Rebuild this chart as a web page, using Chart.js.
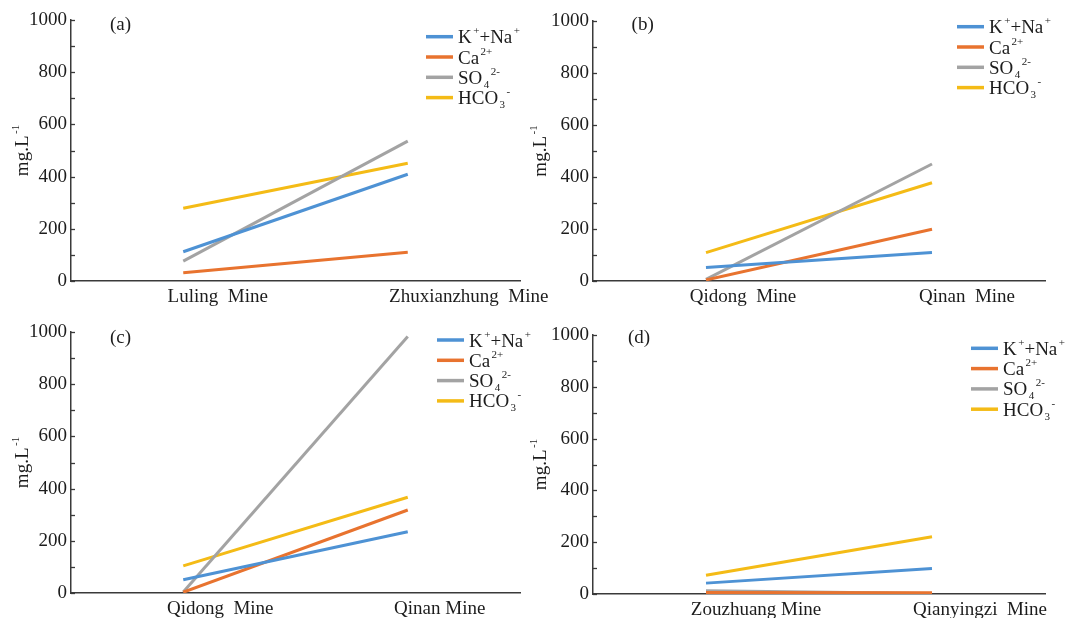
<!DOCTYPE html>
<html><head><meta charset="utf-8">
<script src="https://cdn.jsdelivr.net/npm/chart.js@4/dist/chart.umd.min.js"></script>
<style>
html,body{margin:0;padding:0;background:#fff;width:1066px;height:618px;overflow:hidden}
body{position:relative}
canvas{position:absolute;display:block}
</style></head><body>
<canvas id="ca"></canvas><canvas id="cb"></canvas><canvas id="cc"></canvas><canvas id="cd"></canvas>
<script>
// ---- data ----
const seriesNames = ['K<sup>+</sup>+Na<sup>+</sup>', 'Ca<sup>2+</sup>', 'SO<sub>4</sub><sup>2-</sup>', 'HCO<sub>3</sub><sup>-</sup>'];
const seriesColors = ['#4E92D4', '#E8732F', '#A3A3A3', '#F4BB16'];
const panelTags = ['(a)', '(b)', '(c)', '(d)'];
const yTitle = 'mg.L<sup>-1</sup>';
const yMin = 0, yMax = 1000, yStep = 200, yMinorStep = 100;

const catsA = ['Luling  Mine', 'Zhuxianzhung  Mine'];
const kNaA = [112, 409], caA = [32, 110], so4A = [76, 536], hco3A = [279, 451];

const catsB = ['Qidong  Mine', 'Qinan  Mine'];
const kNaB = [52, 110], caB = [4, 199], so4B = [6, 450], hco3B = [109, 378];

const catsC = ['Qidong  Mine', 'Qinan Mine'];
const kNaC = [51, 235], caC = [3, 318], so4C = [4, 983], hco3C = [104, 367];

const catsD = ['Zouzhuang Mine', 'Qianyingzi  Mine'];
const kNaD = [42, 98], caD = [6, 5], so4D = [13, 2], hco3D = [72, 221];

// ---- drawing ----
const FONT = '"Liberation Serif", "Times New Roman", "DejaVu Serif", serif';
const TXT = '#1c1c1c';
const AXIS = '#3a3a3a';

function parts(s) {
  const re = /<(sup|sub)>(.*?)<\/\1>|([^<]+)/g; let m; const out = [];
  while ((m = re.exec(s))) out.push(m[3] ? { t: m[3], k: 'n' } : { t: m[2], k: m[1] });
  return out;
}
function richWidth(ctx, s) {
  let w = 0;
  parts(s).forEach(p => {
    ctx.font = (p.k === 'n' ? '19px ' : '11px ') + FONT;
    w += ctx.measureText(p.t).width + (p.k === 'n' ? 0 : 1.5);
  });
  return w;
}
function drawRich(ctx, s, x, y) {
  ctx.textAlign = 'left'; ctx.textBaseline = 'alphabetic';
  parts(s).forEach(p => {
    if (p.k === 'n') {
      ctx.font = '19px ' + FONT; ctx.fillText(p.t, x, y); x += ctx.measureText(p.t).width;
    } else {
      ctx.font = '11px ' + FONT;
      const dy = p.k === 'sup' ? -9 : 4;
      ctx.fillText(p.t, x + 1.5, y + dy); x += ctx.measureText(p.t).width + 1.5;
    }
  });
}

const deco = {
  id: 'deco',
  afterDraw(chart, args, o) {
    const ctx = chart.ctx, ca = chart.chartArea, xs = chart.scales.x, ys = chart.scales.y;
    ctx.save();
    // minor ticks on the inside of the value axis
    ctx.strokeStyle = AXIS; ctx.lineWidth = 1.3;
    for (let v = yMin; v <= yMax; v += yMinorStep) {
      const py = Math.round(ys.getPixelForValue(v)) + 0.5;
      ctx.beginPath(); ctx.moveTo(ca.left, py); ctx.lineTo(ca.left + 4, py); ctx.stroke();
    }
    // category labels
    ctx.fillStyle = TXT; ctx.font = '19px ' + FONT; ctx.textAlign = 'center'; ctx.textBaseline = 'middle';
    chart.data.labels.forEach((lab, i) => {
      ctx.fillText(lab, xs.getPixelForValue(i) + o.shift[i], ca.bottom + o.labelGap);
    });
    // panel tag
    ctx.textAlign = 'left';
    ctx.fillText(o.tag, o.tagX, o.tagY);
    // y title (rotated)
    ctx.save();
    ctx.translate(o.titleBaseX, (ca.top + ca.bottom) / 2);
    ctx.rotate(-Math.PI / 2);
    const tw = richWidth(ctx, yTitle);
    ctx.fillStyle = TXT;
    drawRich(ctx, yTitle, -tw / 2, 0);
    ctx.restore();
    // legend
    chart.data.datasets.forEach((ds, i) => {
      const ry = o.legY + i * o.legGap;
      ctx.strokeStyle = ds.borderColor; ctx.lineWidth = 3.5; ctx.lineCap = 'butt';
      ctx.beginPath(); ctx.moveTo(o.legX, ry); ctx.lineTo(o.legX + 27, ry); ctx.stroke();
      ctx.fillStyle = TXT;
      drawRich(ctx, ds.label, o.legX + 32, ry + 6.5);
    });
    ctx.restore();
  }
};

function makeChart(id, cats, series, p) {
  const cv = document.getElementById(id);
  cv.width = p.W; cv.height = p.H;
  cv.style.left = p.left + 'px'; cv.style.top = p.top + 'px';
  cv.style.width = p.W + 'px'; cv.style.height = p.H + 'px';
  return new Chart(cv, {
    type: 'line',
    data: {
      labels: cats,
      datasets: series.map((vals, i) => ({
        label: seriesNames[i], data: vals,
        borderColor: seriesColors[i], backgroundColor: seriesColors[i],
        borderWidth: 3, pointRadius: 0, tension: 0, fill: false
      }))
    },
    options: {
      responsive: false, animation: false, devicePixelRatio: 1,
      layout: { padding: { left: 0, top: p.T, right: p.W - p.R, bottom: 0 } },
      plugins: {
        legend: { display: false }, tooltip: { enabled: false },
        deco: { shift: p.shift, labelGap: 16, tag: p.tag, tagX: p.tagX, tagY: p.tagY,
                legX: p.legX, legY: p.legY, legGap: 20.3, titleBaseX: p.titleBaseX }
      },
      scales: {
        x: {
          type: 'category', offset: true,
          grid: { display: true, drawOnChartArea: false, drawTicks: false },
          border: { display: true, color: AXIS, width: 1.5 },
          ticks: { display: false },
          afterFit(s) { s.height = p.H - p.B; s.paddingLeft = 0; s.paddingRight = 0; s.paddingTop = 0; s.paddingBottom = 0; }
        },
        y: {
          min: yMin, max: yMax,
          grid: { display: true, drawOnChartArea: false, drawTicks: false },
          border: { display: true, color: AXIS, width: 1.5 },
          ticks: { stepSize: yStep, padding: 4, color: TXT, font: { family: FONT, size: 19 },
                   callback: v => String(v) },
          afterFit(s) { s.width = p.L; s.paddingTop = 0; s.paddingBottom = 0; s.paddingLeft = 0; s.paddingRight = 0; }
        }
      }
    },
    plugins: [deco]
  });
}

makeChart('ca', catsA, [kNaA, caA, so4A, hco3A],
  { left: 0, top: 0, W: 560, H: 309, L: 71, R: 520, T: 20, B: 281, titleBaseX: 28,
    shift: [34.5, 61], tag: panelTags[0], tagX: 110, tagY: 25, legX: 426, legY: 36.7 });
makeChart('cb', catsB, [kNaB, caB, so4B, hco3B],
  { left: 525, top: 0, W: 541, H: 309, L: 68, R: 520, T: 21, B: 281, titleBaseX: 21,
    shift: [37, 35], tag: panelTags[1], tagX: 106.6, tagY: 25, legX: 432, legY: 26.7 });
makeChart('cc', catsC, [kNaC, caC, so4C, hco3C],
  { left: 0, top: 309, W: 560, H: 309, L: 71, R: 520, T: 23, B: 284, titleBaseX: 28,
    shift: [37, 32], tag: panelTags[2], tagX: 110, tagY: 29.3, legX: 437, legY: 31 });
makeChart('cd', catsD, [kNaD, caD, so4D, hco3D],
  { left: 525, top: 309, W: 541, H: 309, L: 68, R: 520, T: 26, B: 285, titleBaseX: 21,
    shift: [50, 48], tag: panelTags[3], tagX: 103, tagY: 29.3, legX: 446, legY: 39.3 });
</script>
</body></html>
